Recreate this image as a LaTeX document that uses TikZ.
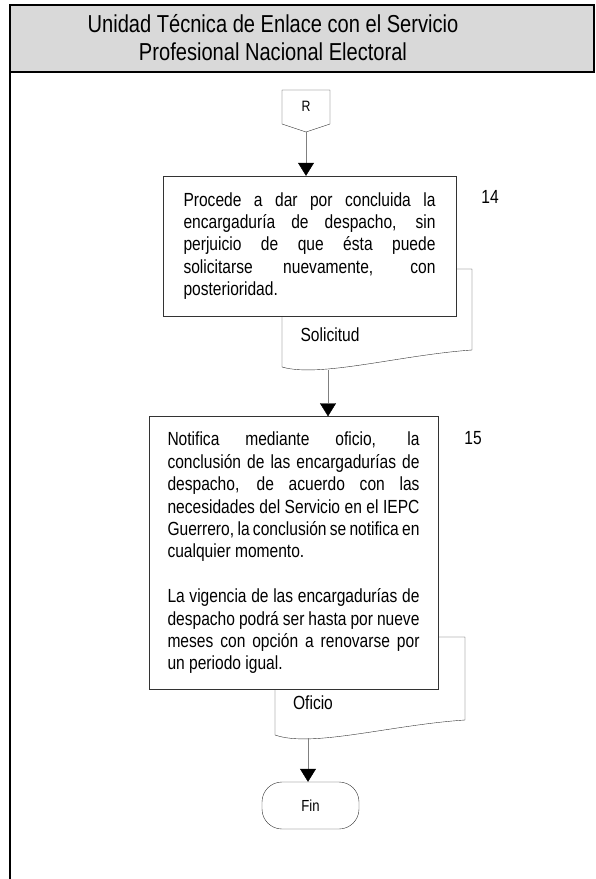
\documentclass[tikz,border=0pt]{standalone}
\usepackage{fontspec}
\setmainfont{Liberation Sans}[FakeStretch=0.82]
\usetikzlibrary{arrows.meta}

\begin{document}
\begin{tikzpicture}[x=1pt, y=-1pt,
  every node/.style={font=\fontsize{19}{22.4}\selectfont},
  tarea/.style={draw=black!80, fill=white, text width=252pt, align=justify},
  documento/.style={draw=black!80, fill=white},
  flecha/.style={draw=black!50, -{Triangle[width=16pt,length=13pt,black]}}]
  \useasboundingbox (0,0) rectangle (595,879);
  % Title bar and frame
  \draw[line width=2pt, fill=black!15] (10,5) rectangle (594,72);
  \draw[line width=2pt] (10,72) -- (10,879);
  \node[align=center, font=\fontsize{24.5}{28}\selectfont] (titulo) at (273,38)
    {Unidad Técnica de Enlace con el Servicio\\Profesional Nacional Electoral};
  % Off-page connector
  \draw[draw=black!80] (282,90) -- (330,90) -- (330,124) -- (306,132) -- (282,124) -- cycle;
  \node[font=\fontsize{15}{17}\selectfont] (conR) at (306,106) {R};
  \coordinate (rpunta) at (306,132);
  % Document behind step 14
  \draw[documento] (282,269) -- (472,269) -- (472,350)
    .. controls (400,355) and (320,378) .. (282,367) -- cycle;
  \node (sol) at (330,335) {Solicitud};
  \coordinate (solpie) at (328,370);
  % Step 14
  \node[tarea, inner xsep=20.5pt, minimum height=140pt] (t14) at (309.5,246)
    {Procede a dar por concluida la\linebreak encargaduría de despacho, sin\linebreak
     perjuicio de que ésta puede\linebreak solicitarse nuevamente, con\linebreak
     posterioridad.};
  \node (n14) at (490,197) {14};
  % Document behind step 15
  \draw[documento] (275,637) -- (465,637) -- (465,720)
    .. controls (390,725) and (312,748) .. (275,735) -- cycle;
  \node (ofi) at (313,703) {Oficio};
  \coordinate (ofipie) at (308,738);
  % Step 15
  \node[tarea, inner xsep=18.5pt, minimum height=273pt] (t15) at (293.5,553)
    {Notifica mediante oficio, la\linebreak conclusión de las encargadurías de\linebreak
     despacho, de acuerdo con las\linebreak necesidades del Servicio en el IEPC\linebreak
     Guerrero, la conclusión se notifica en\linebreak cualquier momento.\par
     \vspace{22.4pt}
     La vigencia de las encargadurías de\linebreak despacho podrá ser hasta por nueve\linebreak
     meses con opción a renovarse por\linebreak un periodo igual.};
  \node (n15) at (473,438) {15};
  % End
  \node[draw=black!80, rounded corners=20pt, minimum width=97pt, minimum height=47pt,
    font=\fontsize{16}{18}\selectfont] (fin) at (310.5,805.5) {Fin};
  % Connectors
  \draw[flecha] (rpunta) -- (rpunta |- t14.north);
  \draw[flecha] (solpie) -- (solpie |- t15.north);
  \draw[flecha] (ofipie) -- (ofipie |- fin.north);
\end{tikzpicture}
\end{document}
